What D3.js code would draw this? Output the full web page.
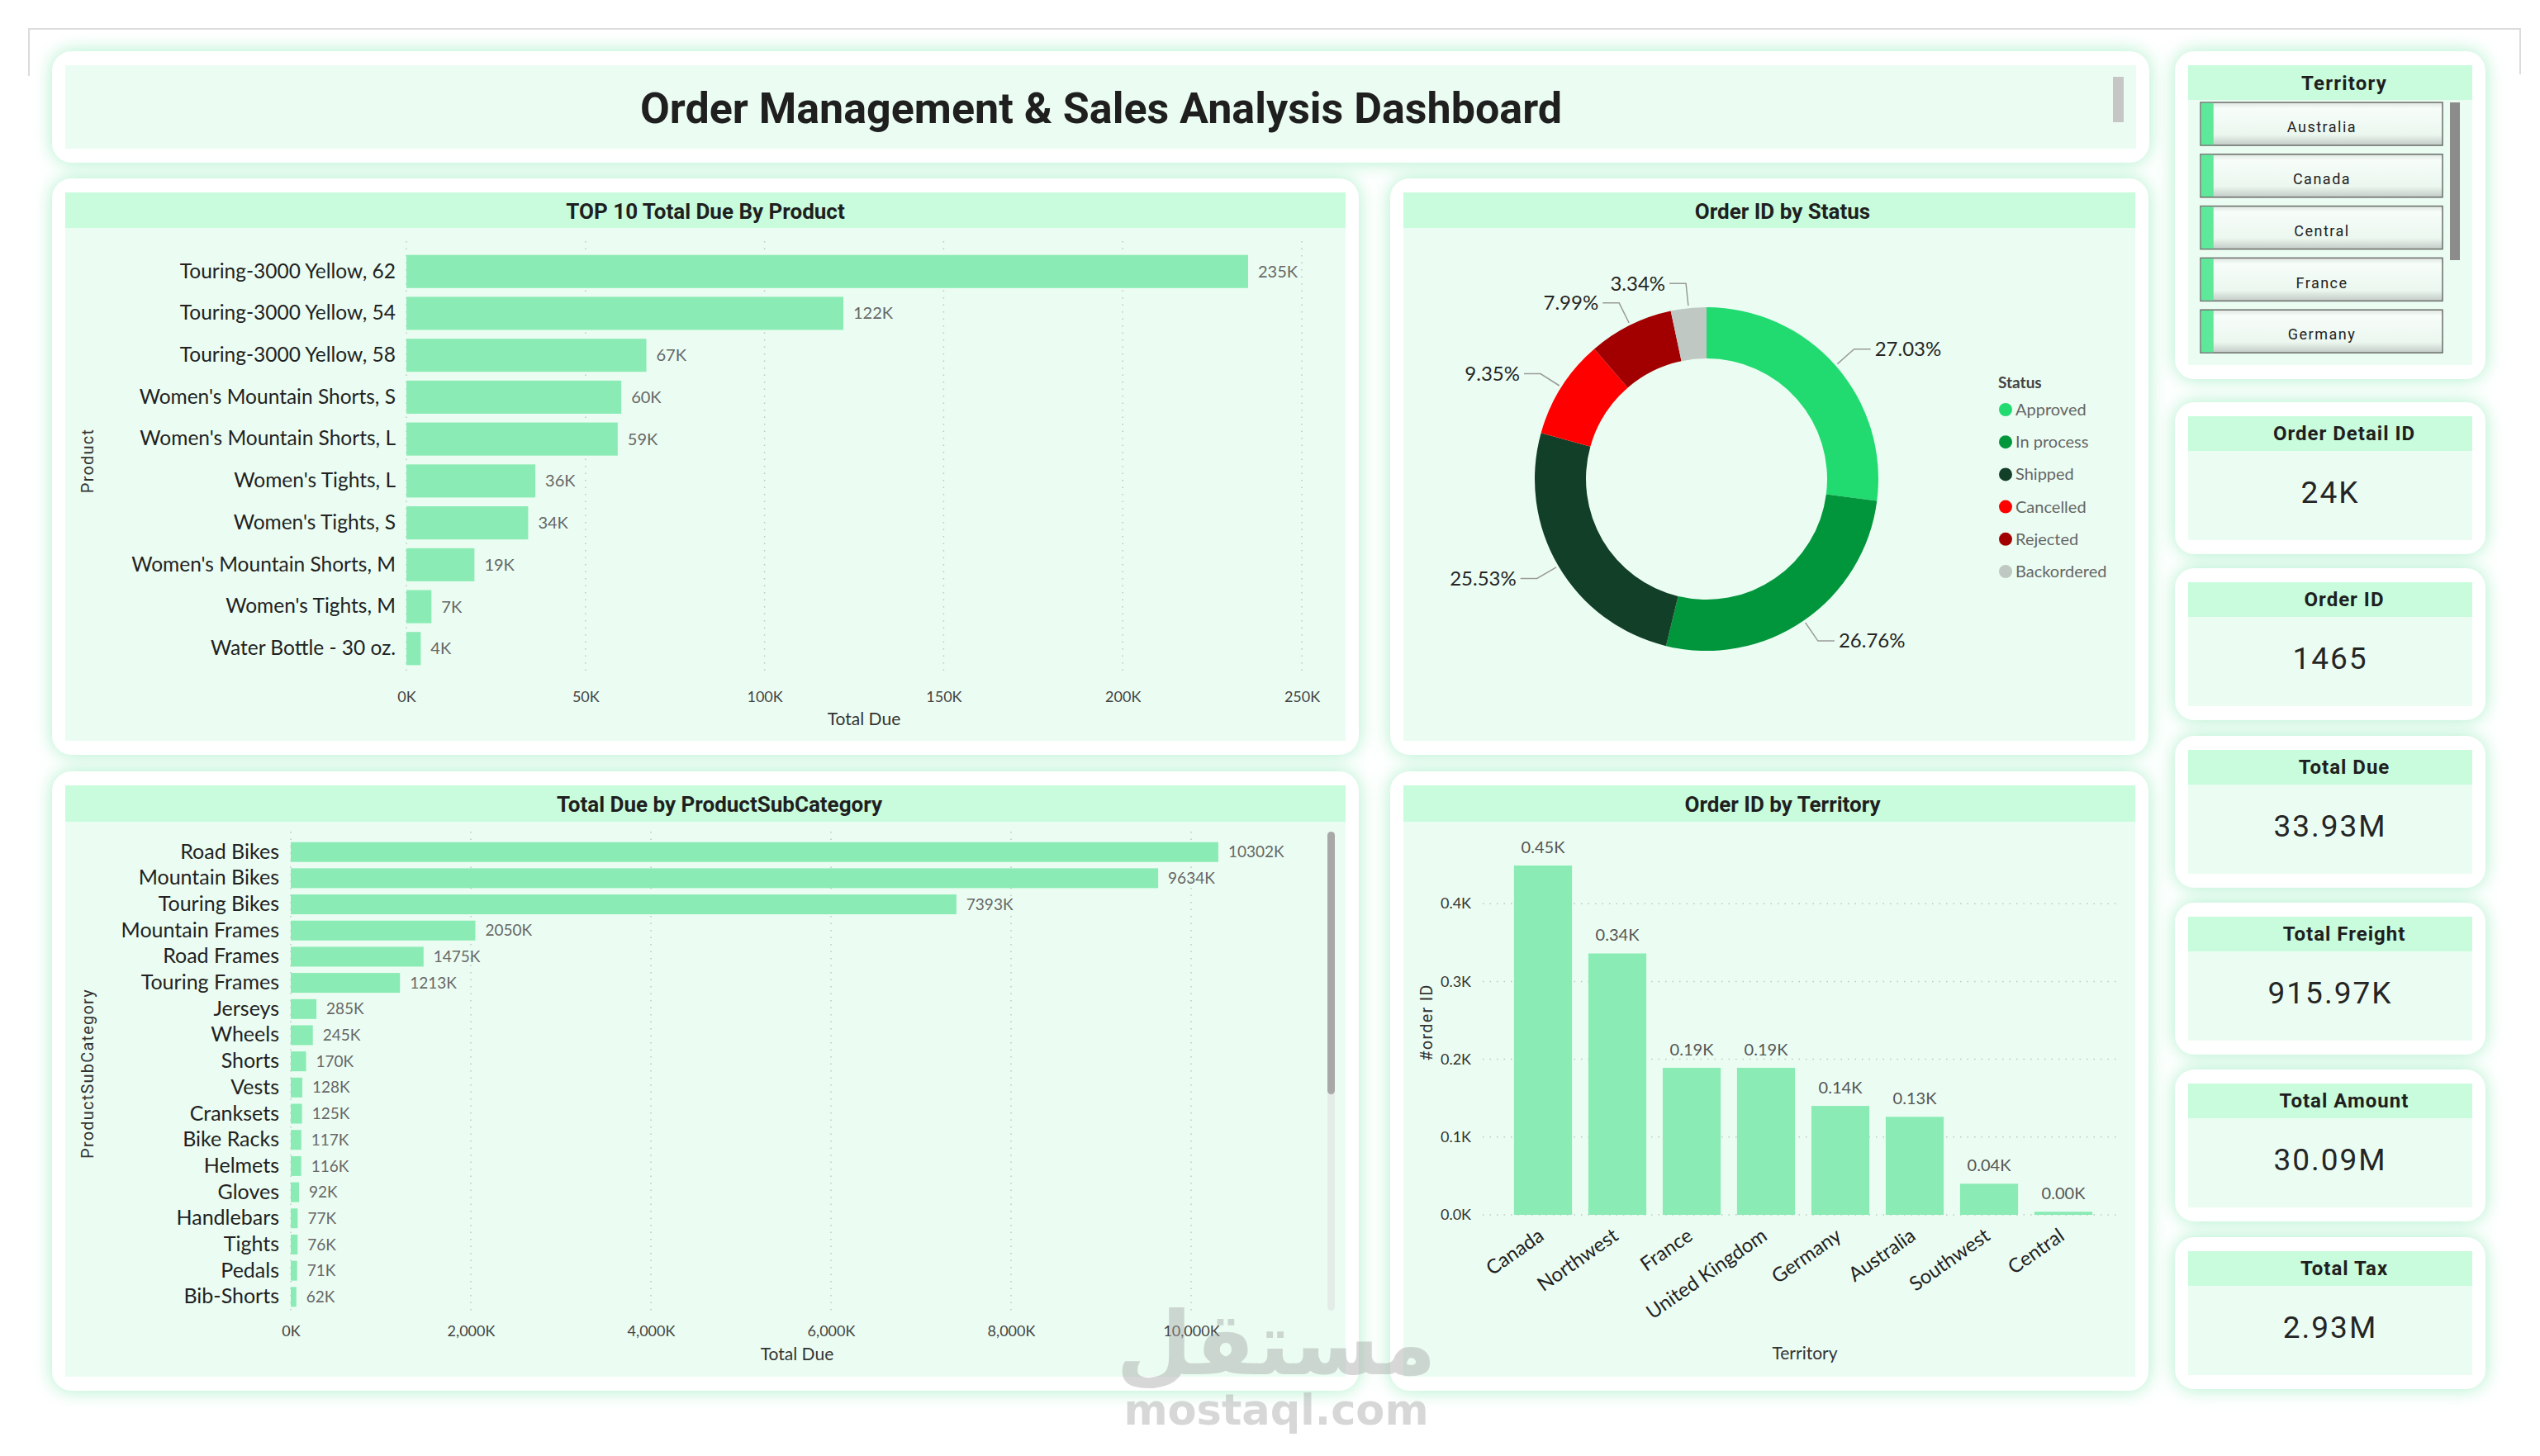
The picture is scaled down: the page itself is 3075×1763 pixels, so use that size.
<!DOCTYPE html>
<html>
<head>
<meta charset="utf-8">
<script src="https://cdn.jsdelivr.net/npm/d3@7"></script>
<style>
html, body { margin: 0; padding: 0; background: #fff; }
svg { display: block; }
</style>
</head>
<body>
<svg id="dash" width="3075" height="1763"></svg>
<script>
// ---- data ----
var topProducts = ["Touring-3000 Yellow, 62", "Touring-3000 Yellow, 54", "Touring-3000 Yellow, 58",
  "Women's Mountain Shorts, S", "Women's Mountain Shorts, L", "Women's Tights, L", "Women's Tights, S",
  "Women's Mountain Shorts, M", "Women's Tights, M", "Water Bottle - 30 oz."];
var topDue = [235, 122, 67, 60, 59, 36, 34, 19, 7, 4]; // thousands
var topTicks = [0, 50, 100, 150, 200, 250];

var subCats = ["Road Bikes", "Mountain Bikes", "Touring Bikes", "Mountain Frames", "Road Frames",
  "Touring Frames", "Jerseys", "Wheels", "Shorts", "Vests", "Cranksets", "Bike Racks", "Helmets",
  "Gloves", "Handlebars", "Tights", "Pedals", "Bib-Shorts"];
var subDue = [10302, 9634, 7393, 2050, 1475, 1213, 285, 245, 170, 128, 125, 117, 116, 92, 77, 76, 71, 62]; // thousands
var subTicks = [0, 2000, 4000, 6000, 8000, 10000];

var statuses = ["Approved", "In process", "Shipped", "Cancelled", "Rejected", "Backordered"];
var statusPct = [27.03, 26.76, 25.53, 9.35, 7.99, 3.34];
var statusColors = ["#21DB71", "#01963C", "#123F27", "#FE0000", "#A20000", "#BFC8C3"];

var territories = ["Canada", "Northwest", "France", "United Kingdom", "Germany", "Australia", "Southwest", "Central"];
var terOrders = [449, 336, 189, 189, 140, 126, 40, 4];
var terTicks = [0, 100, 200, 300, 400];

var slicerItems = ["Australia", "Canada", "Central", "France", "Germany"];
var kpiNames = ["Order Detail ID", "Order ID", "Total Due", "Total Freight", "Total Amount", "Total Tax"];
var kpiValues = ["24K", "1465", "33.93M", "915.97K", "30.09M", "2.93M"];

// ---- styles ----
var BAR = "#8AEBB4", PANEL = "#EBFDF2", HEAD = "#C8FCDC";
var LABEL_FONT = "'Segoe UI', Lato, sans-serif";
var TITLE_FONT = "DIN, Roboto, sans-serif";

var svg = d3.select("#dash");
var defs = svg.append("defs");

var glow = defs.append("filter").attr("id", "glow")
  .attr("x", "-15%").attr("y", "-15%").attr("width", "130%").attr("height", "130%");
glow.append("feDropShadow").attr("dx", 0).attr("dy", 0).attr("stdDeviation", 11)
  .attr("flood-color", "#7FE7AE").attr("flood-opacity", 0.65);

var grad = defs.append("linearGradient").attr("id", "itemGrad")
  .attr("x1", 0).attr("y1", 0).attr("x2", 0).attr("y2", 1);
grad.append("stop").attr("offset", "0%").attr("stop-color", "#dfe5e1");
grad.append("stop").attr("offset", "14%").attr("stop-color", "#f7fdf9");
grad.append("stop").attr("offset", "75%").attr("stop-color", "#ebf7ef");
grad.append("stop").attr("offset", "100%").attr("stop-color", "#c3cbc6");

// thin page border
svg.append("path").attr("d", "M35,92 L35,35 L3051,35 L3051,90")
  .attr("fill", "none").attr("stroke", "#dcdcdc").attr("stroke-width", 2);

function card(x0, y0, x1, y1, title, hh) {
  svg.append("rect").attr("x", x0).attr("y", y0).attr("width", x1 - x0).attr("height", y1 - y0)
    .attr("rx", 24).attr("fill", "#fff").attr("filter", "url(#glow)");
  svg.append("rect").attr("x", x0 + 16).attr("y", y0 + 17).attr("width", x1 - x0 - 32).attr("height", y1 - y0 - 34)
    .attr("fill", PANEL);
  if (title) {
    svg.append("rect").attr("x", x0 + 16).attr("y", y0 + 17).attr("width", x1 - x0 - 32).attr("height", hh || 43)
      .attr("fill", HEAD);
  }
}

function cardTitle(x, y, text, size) {
  svg.append("text").attr("x", x).attr("y", y).attr("text-anchor", "middle").attr("dy", "0.35em")
    .style("font-family", TITLE_FONT).style("font-weight", 700).style("font-size", (size || 26) + "px")
    .style("fill", "#1f1f1f").text(text);
}

// ---- title card ----
card(63, 62, 2602, 197);
cardTitle(1333, 131, "Order Management & Sales Analysis Dashboard", 52);
svg.append("rect").attr("x", 2558).attr("y", 93).attr("width", 13).attr("height", 55).attr("fill", "#c6c6c6");

// ---- TOP 10 total due by product ----
card(63, 216, 1645, 914, true);
cardTitle(854, 256, "TOP 10 Total Due By Product");

var xTop = d3.scaleLinear().domain([0, 250]).range([492, 1576]);
var yTop = d3.scaleBand().domain(topProducts).range([298, 816]).padding(0.21);

svg.append("g").selectAll("line").data(topTicks).join("line")
  .attr("x1", d => xTop(d)).attr("x2", d => xTop(d)).attr("y1", 292).attr("y2", 816)
  .attr("stroke", "#bfc7c2").attr("stroke-width", 1.5).attr("stroke-dasharray", "1.5,7");

svg.append("g").selectAll("rect").data(topDue).join("rect")
  .attr("x", xTop(0)).attr("y", (d, i) => yTop(topProducts[i]))
  .attr("width", d => xTop(d) - xTop(0)).attr("height", yTop.bandwidth()).attr("fill", BAR);

svg.append("g").selectAll("text").data(topDue).join("text")
  .attr("x", d => xTop(d) + 12).attr("y", (d, i) => yTop(topProducts[i]) + yTop.bandwidth() / 2)
  .attr("dy", "0.35em").style("font-family", LABEL_FONT).style("font-size", "20px").style("fill", "#666")
  .text(d => d + "K");

var gyTop = svg.append("g").attr("transform", "translate(479,0)")
  .call(d3.axisLeft(yTop).tickSize(0).tickPadding(0));
gyTop.select(".domain").remove();
gyTop.selectAll("text").style("font-family", LABEL_FONT).style("font-size", "24.5px").style("fill", "#222");

var gxTop = svg.append("g").attr("transform", "translate(0,830)")
  .call(d3.axisBottom(xTop).tickValues(topTicks).tickFormat(d => d + "K").tickSize(0).tickPadding(7));
gxTop.select(".domain").remove();
gxTop.selectAll("text").style("font-family", LABEL_FONT).style("font-size", "18px").style("fill", "#444");

svg.append("text").attr("x", 1046).attr("y", 871).attr("text-anchor", "middle").attr("dy", "0.35em")
  .style("font-family", LABEL_FONT).style("font-size", "21px").style("fill", "#333").text("Total Due");
svg.append("text").attr("transform", "translate(106,558) rotate(-90)").attr("text-anchor", "middle").attr("dy", "0.35em")
  .style("font-family", "Roboto, sans-serif").style("font-size", "20px").style("letter-spacing", "1.2px")
  .style("fill", "#333").text("Product");

// ---- Order ID by Status (donut) ----
card(1683, 216, 2601, 914, true);
cardTitle(2158, 256, "Order ID by Status");

var cx = 2066, cy = 580, R = 208, r = 146;
var pie = d3.pie().sort(null).value(d => d);
var arcs = pie(statusPct);
var arc = d3.arc().innerRadius(r).outerRadius(R);
var gDonut = svg.append("g").attr("transform", "translate(" + cx + "," + cy + ")");
gDonut.selectAll("path").data(arcs).join("path")
  .attr("d", arc).attr("fill", (d, i) => statusColors[i]);

arcs.forEach(function (a) {
  var m = (a.startAngle + a.endAngle) / 2;
  var sx = Math.sin(m), sy = -Math.cos(m);
  var side = sx >= 0 ? 1 : -1;
  var p1 = [sx * (R + 3), sy * (R + 3)];
  var p2 = [sx * (R + 30), sy * (R + 30)];
  var p3 = [p2[0] + side * 20, p2[1]];
  gDonut.append("path").attr("d", "M" + p1 + "L" + p2 + "L" + p3)
    .attr("fill", "none").attr("stroke", "#9a9a9a").attr("stroke-width", 1.5);
  gDonut.append("text").attr("x", p3[0] + side * 5).attr("y", p3[1]).attr("dy", "0.35em")
    .attr("text-anchor", side > 0 ? "start" : "end")
    .style("font-family", LABEL_FONT).style("font-size", "24px").style("fill", "#252525")
    .text(a.data.toFixed(2) + "%");
});

svg.append("text").attr("x", 2419).attr("y", 463).attr("dy", "0.35em")
  .style("font-family", LABEL_FONT).style("font-weight", 700).style("font-size", "19px").style("fill", "#444")
  .text("Status");
var gLeg = svg.append("g").selectAll("g").data(statuses).join("g")
  .attr("transform", (d, i) => "translate(2428," + (496 + i * 39.2) + ")");
gLeg.append("circle").attr("r", 8).attr("fill", (d, i) => statusColors[i]);
gLeg.append("text").attr("x", 12).attr("dy", "0.35em")
  .style("font-family", LABEL_FONT).style("font-size", "20px").style("fill", "#666").text(d => d);

// ---- Total due by product subcategory ----
card(63, 934, 1645, 1684, true, 44);
cardTitle(871, 974, "Total Due by ProductSubCategory");

var xSub = d3.scaleLinear().domain([0, 10000]).range([352, 1442]);
var ySub = d3.scaleBand().domain(subCats).range([1012, 1590]).padding(0.243);

svg.append("g").selectAll("line").data(subTicks).join("line")
  .attr("x1", d => xSub(d)).attr("x2", d => xSub(d)).attr("y1", 1007).attr("y2", 1591)
  .attr("stroke", "#bfc7c2").attr("stroke-width", 1.5).attr("stroke-dasharray", "1.5,7");

svg.append("g").selectAll("rect").data(subDue).join("rect")
  .attr("x", xSub(0)).attr("y", (d, i) => ySub(subCats[i]))
  .attr("width", d => xSub(d) - xSub(0)).attr("height", ySub.bandwidth()).attr("fill", BAR);

svg.append("g").selectAll("text").data(subDue).join("text")
  .attr("x", d => xSub(d) + 12).attr("y", (d, i) => ySub(subCats[i]) + ySub.bandwidth() / 2)
  .attr("dy", "0.35em").style("font-family", LABEL_FONT).style("font-size", "19px").style("fill", "#666")
  .text(d => d + "K");

var gySub = svg.append("g").attr("transform", "translate(338,0)")
  .call(d3.axisLeft(ySub).tickSize(0).tickPadding(0));
gySub.select(".domain").remove();
gySub.selectAll("text").style("font-family", LABEL_FONT).style("font-size", "25px").style("fill", "#222");

var gxSub = svg.append("g").attr("transform", "translate(0,1598)")
  .call(d3.axisBottom(xSub).tickValues(subTicks).tickFormat(d => d3.format(",")(d) + "K").tickSize(0).tickPadding(7));
gxSub.select(".domain").remove();
gxSub.selectAll("text").style("font-family", LABEL_FONT).style("font-size", "18px").style("fill", "#444");

svg.append("text").attr("x", 965).attr("y", 1640).attr("text-anchor", "middle").attr("dy", "0.35em")
  .style("font-family", LABEL_FONT).style("font-size", "21px").style("fill", "#333").text("Total Due");
svg.append("text").attr("transform", "translate(106,1300) rotate(-90)").attr("text-anchor", "middle").attr("dy", "0.35em")
  .style("font-family", "Roboto, sans-serif").style("font-size", "20px").style("letter-spacing", "1.2px")
  .style("fill", "#333").text("ProductSubCategory");

svg.append("rect").attr("x", 1607).attr("y", 1007).attr("width", 9).attr("height", 580).attr("rx", 4.5)
  .attr("fill", "#e4ece7");
svg.append("rect").attr("x", 1607).attr("y", 1007).attr("width", 9).attr("height", 318).attr("rx", 4.5)
  .attr("fill", "#a8a8a8");

// ---- Order ID by Territory ----
card(1683, 934, 2601, 1684, true, 44);
cardTitle(2158, 974, "Order ID by Territory");

var xTer = d3.scaleBand().domain(territories).range([1823, 2543]).paddingInner(0.22).paddingOuter(0.11);
var yTer = d3.scaleLinear().domain([0, 500]).range([1471, 1000]);

svg.append("g").selectAll("line").data(terTicks).join("line")
  .attr("x1", 1795).attr("x2", 2563).attr("y1", d => yTer(d)).attr("y2", d => yTer(d))
  .attr("stroke", "#bfc7c2").attr("stroke-width", 1.5).attr("stroke-dasharray", "1.5,7");

svg.append("g").selectAll("rect").data(terOrders).join("rect")
  .attr("x", (d, i) => xTer(territories[i])).attr("y", d => yTer(d))
  .attr("width", xTer.bandwidth()).attr("height", d => yTer(0) - yTer(d)).attr("fill", BAR);

svg.append("g").selectAll("text").data(terOrders).join("text")
  .attr("x", (d, i) => xTer(territories[i]) + xTer.bandwidth() / 2).attr("y", d => yTer(d) - 22)
  .attr("text-anchor", "middle").attr("dy", "0.35em")
  .style("font-family", LABEL_FONT).style("font-size", "20px").style("fill", "#555")
  .text(d => (d / 1000).toFixed(2) + "K");

var gyTer = svg.append("g").attr("transform", "translate(1781,0)")
  .call(d3.axisLeft(yTer).tickValues(terTicks).tickFormat(d => (d / 1000).toFixed(1) + "K").tickSize(0).tickPadding(0));
gyTer.select(".domain").remove();
gyTer.selectAll("text").style("font-family", LABEL_FONT).style("font-size", "18px").style("fill", "#333");

var gxTer = svg.append("g").attr("transform", "translate(0,1471)")
  .call(d3.axisBottom(xTer).tickSize(0));
gxTer.select(".domain").remove();
gxTer.selectAll("text")
  .attr("y", 0).attr("dy", "0.35em").attr("text-anchor", "end")
  .attr("transform", "translate(-2,22) rotate(-35)")
  .style("font-family", LABEL_FONT).style("font-size", "24px").style("fill", "#222");

svg.append("text").attr("x", 2185).attr("y", 1639).attr("text-anchor", "middle").attr("dy", "0.35em")
  .style("font-family", LABEL_FONT).style("font-size", "21px").style("fill", "#333").text("Territory");
svg.append("text").attr("transform", "translate(1727,1238) rotate(-90)").attr("text-anchor", "middle").attr("dy", "0.35em")
  .style("font-family", "Roboto, sans-serif").style("font-size", "20px").style("letter-spacing", "1.2px")
  .style("fill", "#333").text("#order ID");

// ---- Territory slicer ----
card(2633, 62, 3009, 459, true, 42);
svg.append("text").attr("x", 2838).attr("y", 101).attr("text-anchor", "middle").attr("dy", "0.35em")
  .style("font-family", "Roboto, sans-serif").style("font-weight", 700).style("font-size", "24px")
  .style("letter-spacing", "1.2px").style("fill", "#1f1f1f").text("Territory");

var gItem = svg.append("g").selectAll("g").data(slicerItems).join("g")
  .attr("transform", (d, i) => "translate(2664," + (124 + i * 62.8) + ")");
gItem.append("rect").attr("width", 293).attr("height", 52).attr("fill", "url(#itemGrad)")
  .attr("stroke", "#6a6d6b").attr("stroke-width", 1.5);
gItem.append("rect").attr("x", 0.75).attr("y", 0.75).attr("width", 15).attr("height", 50.5).attr("fill", "#5EE89A");
gItem.append("text").attr("x", 147).attr("y", 30).attr("text-anchor", "middle").attr("dy", "0.35em")
  .style("font-family", "Roboto, sans-serif").style("font-size", "18px").style("letter-spacing", "1.5px")
  .style("fill", "#222").text(d => d);
svg.append("rect").attr("x", 2966).attr("y", 124).attr("width", 12).attr("height", 191).attr("fill", "#8c8c8c");

// ---- KPI cards ----
var kpiTop = [487, 688, 891, 1093, 1295, 1498];
kpiNames.forEach(function (name, i) {
  var t = kpiTop[i];
  card(2633, t, 3009, t + 184, true, 42);
  svg.append("text").attr("x", 2838).attr("y", t + 38).attr("text-anchor", "middle").attr("dy", "0.35em")
    .style("font-family", "Roboto, sans-serif").style("font-weight", 700).style("font-size", "24px")
    .style("letter-spacing", "1px").style("fill", "#1f1f1f").text(name);
  svg.append("text").attr("x", 2821).attr("y", t + 109).attr("text-anchor", "middle").attr("dy", "0.35em")
    .style("font-family", "Roboto, sans-serif").style("font-size", "37px")
    .style("letter-spacing", "2px").style("fill", "#252525").text(kpiValues[i]);
});

// ---- site watermark ----
var wm = svg.append("g").attr("opacity", 0.4).style("fill", "#9e9e9e");
wm.append("text").attr("x", 1545).attr("y", 1664).attr("text-anchor", "middle")
  .style("font-family", "'DejaVu Sans', sans-serif").style("font-weight", 700).style("font-size", "106px")
  .text("مستقل");
wm.append("text").attr("x", 1545).attr("y", 1725).attr("text-anchor", "middle")
  .style("font-family", "'DejaVu Sans', sans-serif").style("font-weight", 700).style("font-size", "51px")
  .text("mostaql.com");
</script>
</body>
</html>
